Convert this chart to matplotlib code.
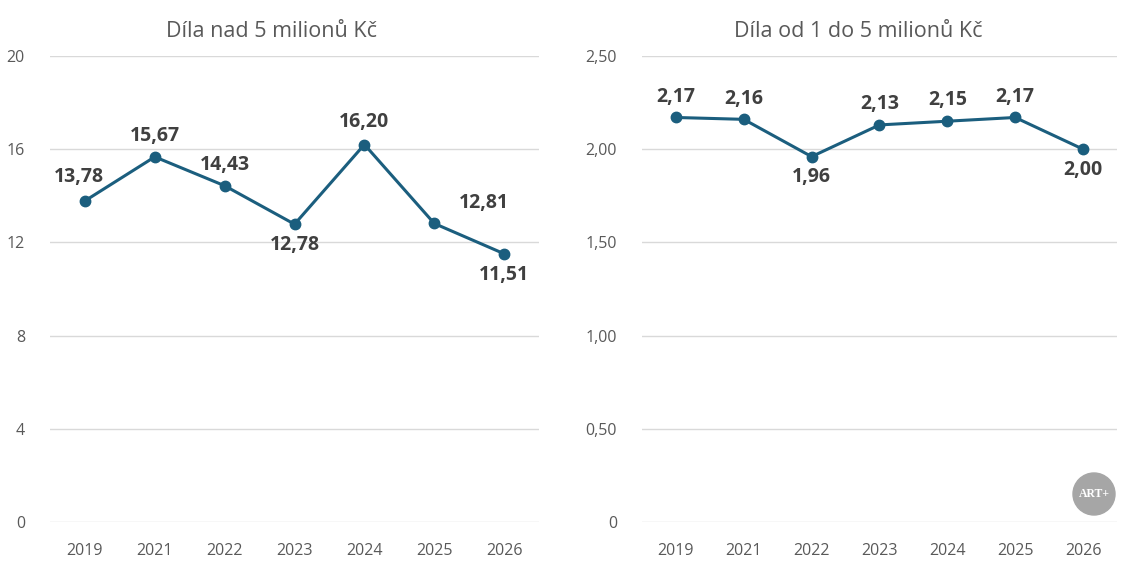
import matplotlib
matplotlib.use('Agg')
import matplotlib.pyplot as plt
from matplotlib.patches import Ellipse

plt.rcParams['font.family'] = ['Open Sans', 'DejaVu Sans']

years = ['2019', '2021', '2022', '2023', '2024', '2025', '2026']
nad5 = [13.78, 15.67, 14.43, 12.78, 16.20, 12.81, 11.51]
od1do5 = [2.17, 2.16, 1.96, 2.13, 2.15, 2.17, 2.00]

# label placement: (dx points, dy points)
pos_left = [(-4, 17), (0, 15), (0, 15), (0, -15), (0, 16), (36, 15), (0, -15)]
pos_right = [(0, 15), (0, 15), (0, -15), (0, 15), (0, 15), (0, 15), (0, -15)]

line_col = '#1b5e7e'
grid_col = '#d9d9d9'
text_col = '#595959'

fig = plt.figure(figsize=(11.35, 5.67), dpi=100)
ax1 = fig.add_axes([0.044, 0.0794, 0.431, 0.8219])
ax2 = fig.add_axes([0.5656, 0.0794, 0.4185, 0.8219])


def fmt(v):
    return ('%.2f' % v).replace('.', ',')


def style(ax, title, title_x, ymax, yticks, ytl, vals, pos):
    x = range(len(years))
    ax.plot(x, vals, color=line_col, lw=2.2, marker='o', ms=7.5, zorder=3)
    for i, v in enumerate(vals):
        dx, dy = pos[i]
        ax.annotate(fmt(v), (i, v), xytext=(dx, dy), textcoords='offset points',
                    ha='center', va='center', fontsize=14, fontweight='bold',
                    color='#404040')
    ax.set_xlim(-0.5, len(years) - 0.5)
    ax.set_ylim(0, ymax)
    ax.set_xticks(list(x))
    ax.set_xticklabels(years)
    ax.set_yticks(yticks)
    ax.set_yticklabels(ytl)
    ax.grid(axis='y', color=grid_col, lw=1)
    ax.set_axisbelow(True)
    for s in ax.spines.values():
        s.set_visible(False)
    ax.tick_params(length=0, labelsize=11.5, colors=text_col)
    ax.tick_params(axis='x', pad=15)
    ax.tick_params(axis='y', pad=18)
    ax.set_title(title, fontsize=15.5, color=text_col, pad=14, x=title_x)


style(ax1, 'Díla nad 5 milionů Kč', 0.452, 20, [0, 4, 8, 12, 16, 20],
      ['0', '4', '8', '12', '16', '20'], nad5, pos_left)
style(ax2, 'Díla od 1 do 5 milionů Kč', 0.456, 2.5, [0, 0.5, 1.0, 1.5, 2.0, 2.5],
      ['0', '0,50', '1,00', '1,50', '2,00', '2,50'], od1do5, pos_right)

# ART+ badge
cx, cy, r = 1094 / 1135, 1 - 494 / 567, 21
badge = Ellipse((cx, cy), 2 * r / 1135, 2 * r / 567, transform=fig.transFigure,
                color='#a6a6a6', zorder=5)
fig.patches.append(badge)
fig.text(cx, cy, 'ART+', ha='center', va='center', color='white',
         fontsize=8.5, fontweight='bold', family='Liberation Serif', zorder=6)

fig.savefig('out.png', dpi=100)
